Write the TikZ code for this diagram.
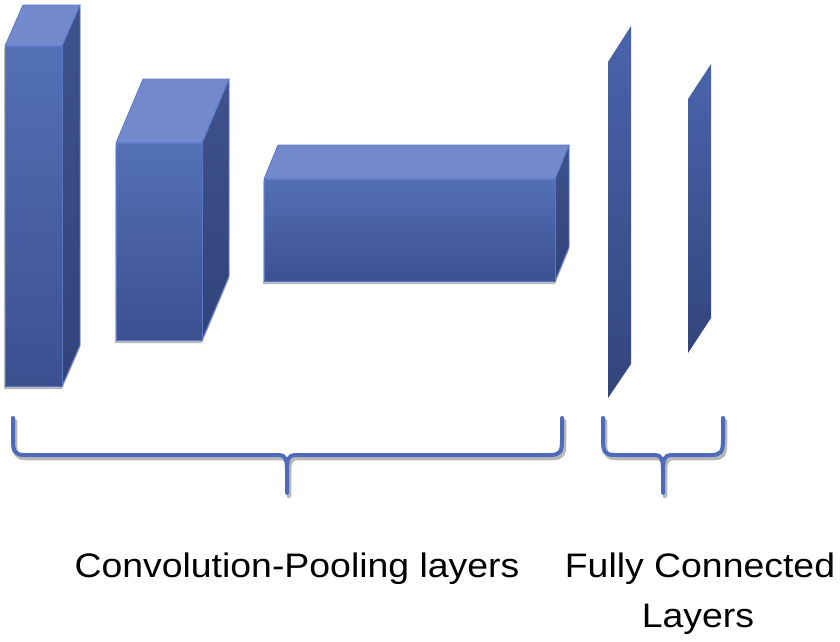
\documentclass[tikz,border=0pt]{standalone}
\usepackage{fontspec}
\newfontfamily\labfont{Liberation Sans}[FakeStretch=1.1]
\definecolor{topface}{HTML}{728ACC}
\definecolor{fronttop}{HTML}{5370B6}
\definecolor{frontbot}{HTML}{3C5090}
\definecolor{sidetop}{HTML}{3E528D}
\definecolor{sidebot}{HTML}{31437A}
\definecolor{edgeblue}{HTML}{5B78C6}
\definecolor{platetop}{HTML}{4A64AC}
\definecolor{platebot}{HTML}{32447B}
\definecolor{bracecol}{HTML}{4E6BBB}
\definecolor{shadowgray}{HTML}{B8B8B8}
\tikzset{
  topfc/.style={fill=topface, draw=edgeblue, line width=0.8pt, line join=round},
  frontfc/.style={top color=fronttop, bottom color=frontbot, draw=edgeblue, line width=0.8pt, line join=round},
  sidefc/.style={top color=sidetop, bottom color=sidebot, draw=edgeblue, line width=0.8pt, line join=round},
  platefc/.style={top color=platetop, bottom color=platebot, draw=none},
  shadowfc/.style={fill=shadowgray, draw=none},
  bracestroke/.style={draw=bracecol, line width=4pt, line cap=round, line join=round},
  braceshadow/.style={draw=shadowgray, line width=4.5pt, line cap=round, line join=round},
  labeltext/.style={font=\labfont\fontsize{34}{50}\selectfont, text=black, inner sep=0pt, anchor=base}
}
% #1 front left x, #2 front right x, #3 front top y, #4 front bottom y, #5 dx, #6 dy
\newcommand{\cuboid}[6]{%
  \fill[shadowfc] (#1-1,#3+3) -- (#1+#5,#3+#6+3) -- (#2+#5,#3+#6+3) -- (#2+#5,#4+#6+3) -- (#2,#4+3) -- (#1-1,#4+3) -- cycle;
  \path[sidefc] (#2,#3) -- (#2+#5,#3+#6) -- (#2+#5,#4+#6) -- (#2,#4) -- cycle;
  \path[topfc] (#1,#3) -- (#1+#5,#3+#6) -- (#2+#5,#3+#6) -- (#2,#3) -- cycle;
  \path[frontfc] (#1,#3) rectangle (#2,#4);
}
\begin{document}
\begin{tikzpicture}[x=1pt,y=-1pt]
\useasboundingbox (0,0) rectangle (840,641);
\fill[white] (0,0) rectangle (840,641);
% convolution-pooling blocks
\cuboid{5}{62}{46}{386}{18}{-41}
\cuboid{116}{202}{143}{340}{27}{-64}
\cuboid{264}{555}{179}{281}{14}{-34}
% fully connected plates
\path[platefc] (608,62) -- (631,26) -- (631,364) -- (608,398) -- cycle;
\path[platefc] (688,99) -- (711,64) -- (711,318) -- (688,353) -- cycle;
% braces: shadows
\begin{scope}[shift={(2,3)}]
\draw[braceshadow] (13,418) -- (13,440) .. controls (13,452) and (15,455) .. (25,455) -- (279,455) .. controls (285,455) and (287,459) .. (287,470) -- (287,493);
\draw[braceshadow] (287,470) .. controls (287,459) and (289,455) .. (295,455) -- (550,455) .. controls (560,455) and (562,452) .. (562,440) -- (562,418);
\draw[braceshadow] (603,418) -- (603,440) .. controls (603,452) and (605,455) .. (615,455) -- (655,455) .. controls (661,455) and (663,459) .. (663,470) -- (663,493);
\draw[braceshadow] (663,470) .. controls (663,459) and (665,455) .. (671,455) -- (711,455) .. controls (721,455) and (723,452) .. (723,440) -- (723,418);
\end{scope}
% braces
\draw[bracestroke] (13,418) -- (13,440) .. controls (13,452) and (15,455) .. (25,455) -- (279,455) .. controls (285,455) and (287,459) .. (287,470) -- (287,493);
\draw[bracestroke] (287,470) .. controls (287,459) and (289,455) .. (295,455) -- (550,455) .. controls (560,455) and (562,452) .. (562,440) -- (562,418);
\draw[bracestroke] (603,418) -- (603,440) .. controls (603,452) and (605,455) .. (615,455) -- (655,455) .. controls (661,455) and (663,459) .. (663,470) -- (663,493);
\draw[bracestroke] (663,470) .. controls (663,459) and (665,455) .. (671,455) -- (711,455) .. controls (721,455) and (723,452) .. (723,440) -- (723,418);
% labels
\node[labeltext] (convlabel) at (297,577) {Convolution-Pooling layers};
\node[labeltext] (fclabel1) at (700,577) {Fully Connected};
\node[labeltext] (fclabel2) at (698,627) {Layers};
\end{tikzpicture}
\end{document}
